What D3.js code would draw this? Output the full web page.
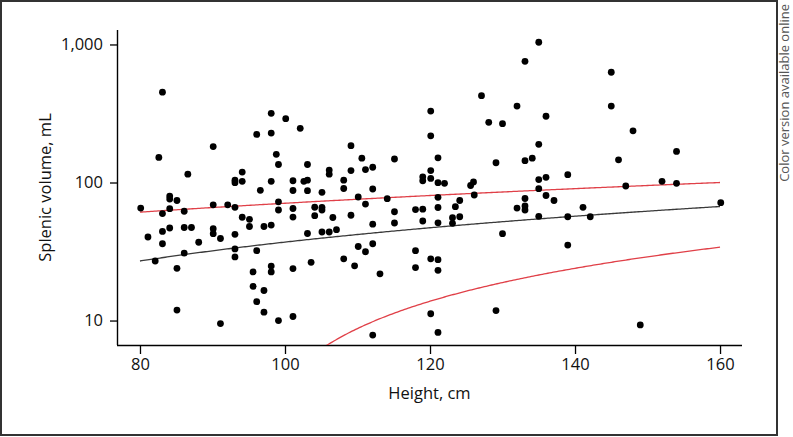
<!DOCTYPE html>
<html><head><meta charset="utf-8">
<script src="https://cdn.jsdelivr.net/npm/d3@7/dist/d3.min.js"></script>
<style>
body{margin:0;background:#fff;}
svg{display:block;font-family:"Open Sans","Noto Sans",sans-serif;}
</style></head>
<body><svg id="chart" width="793" height="437"></svg>
<script>
// Height (cm) of each child
const heights = [80.1,81.1,82.1,82.6,83.1,83.1,83.1,83.1,84.1,84.1,85.1,84.1,84.1,85.1,85.1,86.1,86.1,86.1,86.6,87.1,
88.1,90.1,90.1,90.1,90.1,91.1,91.1,92.1,93.1,93.1,93.1,93.1,93.1,93.1,94.1,94.1,94.1,95.1,95.1,95.6,
95.6,96.1,96.1,96.1,96.6,97.1,97.1,97.1,98.1,98.1,98.1,98.1,98.1,98.1,98.8,99.1,99.1,99.1,99.1,100.1,
101.1,101.1,101.1,101.1,101.1,101.1,102.1,102.6,103.1,103.1,103.1,103.1,103.6,104.1,104.1,105.1,105.1,105.1,105.1,106.1,
106.1,106.1,106.6,107.1,108.1,108.1,108.1,109.1,109.1,109.1,109.6,110.1,110.1,110.6,111.1,111.1,111.1,112.1,112.1,112.1,
112.1,112.1,113.1,114.1,115.1,115.1,115.1,118.0,118.0,118.0,119.0,119.0,119.0,119.0,120.1,120.1,120.1,120.1,120.1,120.1,
121.1,121.1,121.1,121.1,121.1,121.1,121.1,121.1,122.0,123.1,123.1,123.5,124.1,124.1,125.6,126.0,126.1,127.1,128.1,129.1,
129.1,130.0,130.0,132.0,132.0,133.1,133.1,133.1,133.1,133.1,134.1,135.0,135.0,135.0,135.0,135.0,136.0,136.0,136.0,137.1,
139.0,139.0,139.0,141.1,142.1,145.0,145.0,146.0,147.0,148.0,149.0,152.0,154.0,154.0,160.1];
// Splenic volume (mL) of each child
const volumes = [65.3,40.3,27.0,152,451,59.6,44.2,36.0,79.8,75.9,74.1,64.6,46.8,23.9,11.9,61.9,47.2,30.8,115,47.2,
36.9,182,68.9,46.3,42.6,39.3,9.5,68.9,104,99.7,66.1,42.1,33.0,28.9,119,102,56.0,54.1,48.0,22.5,
17.7,223,32.1,13.7,87.8,48.0,16.5,11.5,317,228,102,49.2,24.8,22.5,160,135,72.5,63.2,10.0,290,
103,87.5,64.8,56.2,23.8,10.7,247,102,104,135,87.2,42.7,26.4,66.2,57.5,84.9,66.1,63.2,43.8,123,
115,43.8,55.8,45.5,104,90.5,28.0,185,122,57.9,24.9,78.5,34.4,150,124,69.8,31.5,129,89.7,49.9,
36.0,7.85,21.8,76.3,148,61.4,50.9,63.7,32.1,24.2,110,103,64.1,52.6,329,218,122,107,28.0,11.2,
151,99.7,78.1,65.9,51.0,27.6,23.1,8.2,98.7,55.6,50.6,66.8,74.1,56.5,95.1,101,81.2,426,273,139,
11.8,267,42.6,358,65.3,755,144,76.6,67.6,63.2,150,1038,189,105,90.2,56.9,302,109,80.5,74.1,
114,56.5,35.2,66.1,56.5,629,358,146,94.3,237,9.3,102,168,98.7,71.4];

// Fitted reference lines (linear in mL): mean and upper/lower limits at the ends
const fitHeights = [80, 160];
const fitMean = [27, 67];
const fitUpper = [61, 100];
const fitLower = [-6.4, 34];

const xTicks = [80, 100, 120, 140, 160];
const yTicks = [10, 100, 1000];
const yTickLabels = ["10", "100", "1,000"];

const svg = d3.select("#chart");
const L = 117, R = 742, T = 30, B = 345;

const x = d3.scaleLinear().domain([76.83, 163.03]).range([L, R]);
const y = d3.scaleLog().domain([6.65, 1273]).range([B, T]);

// frame
svg.append("rect").attr("x", 1).attr("y", 1).attr("width", 776).attr("height", 434)
  .attr("fill", "none").attr("stroke", "#333").attr("stroke-width", 2);

svg.append("text")
  .attr("transform", "translate(789,4) rotate(-90)")
  .attr("text-anchor", "end").attr("font-size", 13).attr("fill", "#555")
  .text("Color version available online");

svg.append("clipPath").attr("id", "plotclip").append("rect")
  .attr("x", L).attr("y", T).attr("width", R - L).attr("height", B - T);

// axes
const gx = svg.append("g").attr("transform", `translate(0,${B})`)
  .call(d3.axisBottom(x).tickValues(xTicks).tickSizeOuter(0).tickSizeInner(9).tickPadding(4));
const gy = svg.append("g").attr("transform", `translate(${L},0)`)
  .call(d3.axisLeft(y).tickValues(yTicks).tickFormat((d, i) => yTickLabels[i]).tickSizeOuter(0).tickSizeInner(7).tickPadding(7));
[gx, gy].forEach(g => {
  g.selectAll("path.domain").attr("stroke", "#000").attr("stroke-width", 1.4);
  g.selectAll(".tick line").attr("stroke", "#000").attr("stroke-width", 1.3);
  g.selectAll(".tick text").attr("font-size", 16.5).attr("fill", "#111")
    .attr("font-family", "'Open Sans','Noto Sans',sans-serif");
});
gx.select("path.domain").attr("d", `M${L},0.5H${R}`);
gy.select("path.domain").attr("d", `M0.5,${T}V${B}`);

svg.append("text").attr("x", (L + R) / 2).attr("y", 399).attr("text-anchor", "middle")
  .attr("font-size", 16.5).attr("fill", "#111").text("Height, cm");
svg.append("text").attr("transform", `translate(51,${(T + B) / 2}) rotate(-90)`)
  .attr("text-anchor", "middle").attr("font-size", 16.5).attr("fill", "#111").text("Splenic volume, mL");

// fitted lines: straight in mL, drawn through the log scale
const plot = svg.append("g").attr("clip-path", "url(#plotclip)");
function drawFit(vals, color) {
  const interp = d3.scaleLinear().domain(fitHeights).range(vals);
  const hs = d3.range(fitHeights[0], fitHeights[1] + 0.001, 0.25);
  const line = d3.line().defined(h => interp(h) > 0.5)
    .x(h => x(h)).y(h => y(Math.max(interp(h), 0.5)));
  plot.append("path").attr("d", line(hs)).attr("fill", "none")
    .attr("stroke", color).attr("stroke-width", 1.3);
}
drawFit(fitMean, "#3a3a3a");
drawFit(fitUpper, "#e04048");
drawFit(fitLower, "#e04048");

svg.append("g").selectAll("circle").data(heights.map((h, i) => [h, volumes[i]]))
  .join("circle").attr("cx", d => x(d[0])).attr("cy", d => y(d[1]))
  .attr("r", 3.4).attr("fill", "#000");
</script></body></html>
